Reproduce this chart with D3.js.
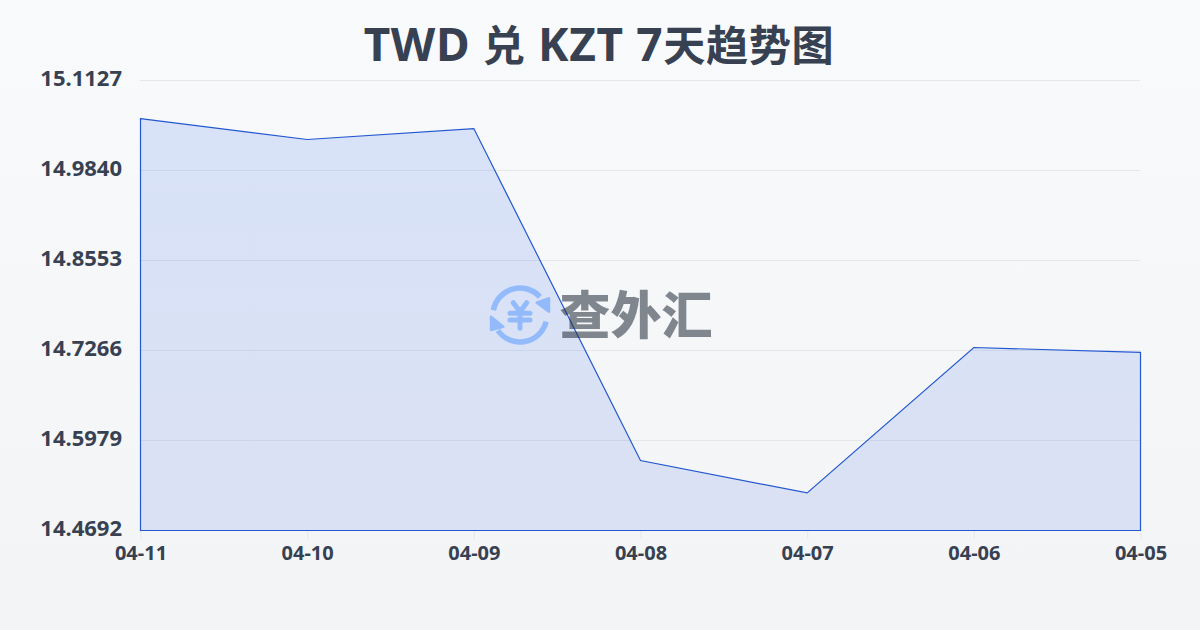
<!DOCTYPE html>
<html><head><meta charset="utf-8">
<style>html,body{margin:0;padding:0;background:#f8fafc}svg{display:block}</style>
<script src="https://cdn.jsdelivr.net/npm/d3@7/dist/d3.min.js"></script>
</head><body><svg id="c" width="1200" height="630"></svg>
<script>
const dates=["04-11","04-10","04-09","04-08","04-07","04-06","04-05"];
const rates=[15.0576,15.0276,15.0433,14.5686,14.5222,14.7302,14.7231];
const yTicks=[14.4692,14.5979,14.7266,14.8553,14.9840,15.1127];
const titleParts=["TWD ","兑"," KZT 7","天趋势图"];
const watermarkText="查外汇";
const font="'Noto Sans','Noto Sans CJK SC',sans-serif";
const svg=d3.select("#c");
const defs=svg.append("defs");
const bg=defs.append("linearGradient").attr("id","bg").attr("x1",0).attr("y1",0).attr("x2",0).attr("y2",1);
bg.append("stop").attr("offset",0).attr("stop-color","#f8fafc");
bg.append("stop").attr("offset",1).attr("stop-color","#f3f4f6");
const fg=defs.append("linearGradient").attr("id","fg").attr("gradientUnits","userSpaceOnUse").attr("x1",0).attr("y1",80).attr("x2",0).attr("y2",530);
fg.append("stop").attr("offset",0).attr("stop-color","#2563eb").attr("stop-opacity",.15);
fg.append("stop").attr("offset",1).attr("stop-color","#1d4ed8").attr("stop-opacity",.12);
svg.append("rect").attr("width",1200).attr("height",630).attr("fill","url(#bg)");
const x=d3.scalePoint().domain(dates).range([140.5,1140.5]);
const y=d3.scaleLinear().domain([14.4692,15.1127]).range([530,80]);
svg.append("text").attr("x",599).attr("y",61).attr("text-anchor","middle").attr("xml:space","preserve").style("white-space","pre")
 .attr("font-family",font).attr("font-weight",700).attr("fill","#374151").attr("letter-spacing",.6)
 .selectAll("tspan").data(titleParts).join("tspan")
 .attr("font-size",(d,i)=>i%2?42.2:46).text(d=>d);
// grid
svg.append("g").selectAll("line").data(yTicks).join("line")
 .attr("x1",140).attr("x2",1140).attr("y1",d=>y(d)+.5).attr("y2",d=>y(d)+.5)
 .attr("stroke","#e5e7eb").attr("stroke-width",1);
// axes
const gy=svg.append("g").attr("transform","translate(140,0)")
 .call(d3.axisLeft(y).tickValues(yTicks).tickFormat(d3.format(".4f")).tickSize(0).tickPadding(18));
const gx=svg.append("g").attr("transform","translate(0,530)")
 .call(d3.axisBottom(x).tickSize(9).tickPadding(7));
gy.select(".domain").remove();gx.select(".domain").remove();
gx.selectAll("line").attr("stroke","#e5e7eb");
[gy,gx].forEach(g=>g.selectAll("text").attr("font-family",font).attr("font-size",g===gy?22:20).attr("font-weight",700).attr("fill","#374151"));
gy.selectAll("text").attr("dy","0.25em");
// area
const area=d3.area().x((d,i)=>x(dates[i])).y0(530.5).y1(d=>y(d));
svg.append("path").datum(rates).attr("d",area).attr("fill","url(#fg)").attr("stroke","#2458d0").attr("stroke-width",1.2);
// watermark
const wm=svg.append("g");
const ic=wm.append("g").attr("transform","translate(520,315)").attr("fill","none").attr("stroke","#93bbfb").attr("stroke-linecap","round");
const arc=d3.arc().innerRadius(27).outerRadius(27);
ic.append("path").attr("d",arc({startAngle:-1.39,endAngle:0.83})).attr("stroke-width",5.5);
ic.append("path").attr("d",arc({startAngle:1.82,endAngle:4.1})).attr("stroke-width",5.5);
ic.append("path").attr("d","M-6.7,-12.3L0,-3.3L6.7,-12.3M-10,-1.7H10M-10,5H10M0,-3.3V13.3").attr("stroke-width",5);
ic.append("path").attr("d","M16.7,-12.3L29,-16.7L29,-3.3Z").attr("fill","#93bbfb").attr("stroke-width",2.5).attr("stroke-linejoin","round");
ic.append("path").attr("d","M-29,1.7L-16.7,11.7L-29,15Z").attr("fill","#93bbfb").attr("stroke-width",2.5).attr("stroke-linejoin","round");
wm.append("text").attr("x",636).attr("y",334).attr("text-anchor","middle").attr("font-family","'Noto Sans CJK SC',sans-serif").attr("font-size",51).attr("font-weight",900).attr("fill","#1f2937").attr("fill-opacity",.55).text(watermarkText);
</script></body></html>
